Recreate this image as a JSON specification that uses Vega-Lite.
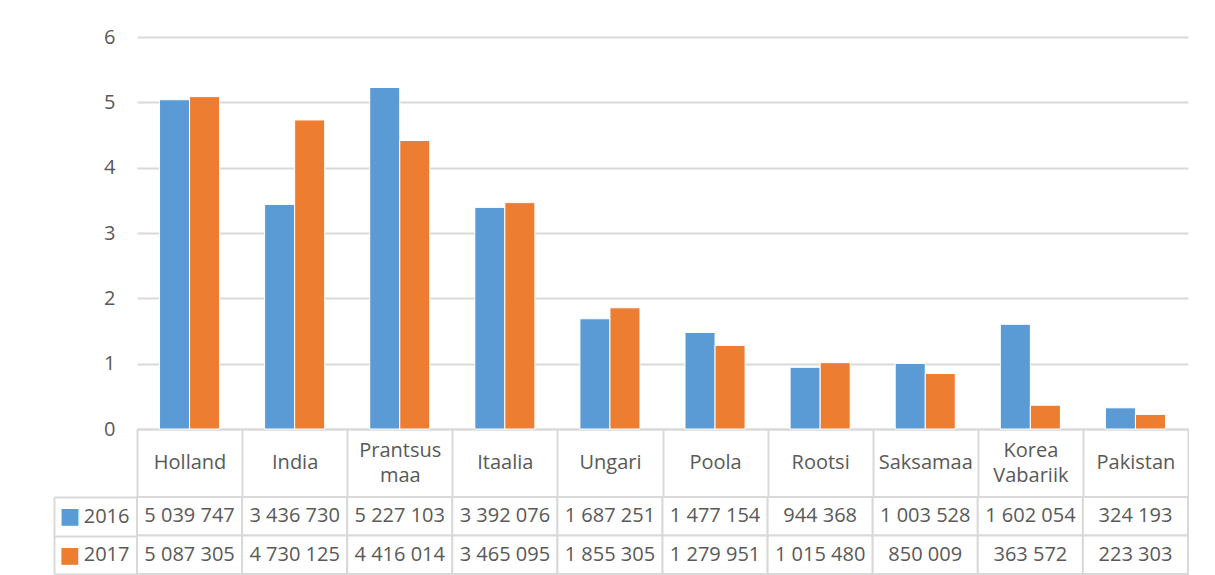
{
  "$schema": "https://vega.github.io/schema/vega-lite/v6.json",
  "background": "white",
  "padding": {"left": 53, "top": 27, "right": 0, "bottom": 0},
  "spacing": -10,
  "config": {
    "view": {"stroke": null},
    "font": "Open Sans",
    "locale": {"number": {"decimal": ",", "thousands": " ", "grouping": [3], "currency": ["", " €"]}}
  },
  "datasets": {
    "exports": [
      {"country": "Holland", "year": "2016", "value": 5039747},
      {"country": "Holland", "year": "2017", "value": 5087305},
      {"country": "India", "year": "2016", "value": 3436730},
      {"country": "India", "year": "2017", "value": 4730125},
      {"country": "Prantsusmaa", "year": "2016", "value": 5227103},
      {"country": "Prantsusmaa", "year": "2017", "value": 4416014},
      {"country": "Itaalia", "year": "2016", "value": 3392076},
      {"country": "Itaalia", "year": "2017", "value": 3465095},
      {"country": "Ungari", "year": "2016", "value": 1687251},
      {"country": "Ungari", "year": "2017", "value": 1855305},
      {"country": "Poola", "year": "2016", "value": 1477154},
      {"country": "Poola", "year": "2017", "value": 1279951},
      {"country": "Rootsi", "year": "2016", "value": 944368},
      {"country": "Rootsi", "year": "2017", "value": 1015480},
      {"country": "Saksamaa", "year": "2016", "value": 1003528},
      {"country": "Saksamaa", "year": "2017", "value": 850009},
      {"country": "Korea Vabariik", "year": "2016", "value": 1602054},
      {"country": "Korea Vabariik", "year": "2017", "value": 363572},
      {"country": "Pakistan", "year": "2016", "value": 324193},
      {"country": "Pakistan", "year": "2017", "value": 223303}
    ]
  },
  "vconcat": [
    {
      "width": 1051,
      "height": 392,
      "data": {"name": "exports"},
      "mark": {"type": "bar", "stroke": "white", "strokeWidth": 1},
      "encoding": {
        "x": {
          "field": "country", "type": "nominal", "sort": null,
          "scale": {"paddingInner": 0, "paddingOuter": 0},
          "axis": {
            "title": null,
            "labelAngle": 0,
            "labelExpr": "datum.label == 'Prantsusmaa' ? ['Prantsus', 'maa'] : split(datum.label, ' ')",
            "labelFontSize": 20,
            "labelColor": "#595959",
            "labelLineHeight": 25,
            "labelBaseline": "middle",
            "labelPadding": {"condition": {"test": "datum.value == 'Prantsusmaa' || datum.value == 'Korea Vabariik'", "value": -46}, "value": -34},
            "labelOverlap": false,
            "labelLimit": 0,
            "domain": true,
            "domainColor": "#d9d9d9",
            "domainWidth": 2,
            "ticks": true,
            "tickBand": "extent",
            "tickSize": 67,
            "tickColor": "#d9d9d9",
            "tickWidth": 2,
            "grid": false
          }
        },
        "xOffset": {"field": "year", "type": "nominal", "scale": {"paddingInner": 0, "paddingOuter": 0.75}},
        "y": {
          "field": "value", "type": "quantitative",
          "scale": {"domain": [0, 6000000], "nice": false},
          "axis": {
            "title": null,
            "values": [0, 1000000, 2000000, 3000000, 4000000, 5000000, 6000000],
            "labelExpr": "format(datum.value / 1000000, 'd')",
            "labelFontSize": 20,
            "labelColor": "#595959",
            "labelPadding": 22,
            "domain": false,
            "ticks": false,
            "grid": true,
            "gridColor": "#d9d9d9",
            "gridWidth": 2
          }
        },
        "color": {
          "field": "year", "type": "nominal",
          "scale": {"domain": ["2016", "2017"], "range": ["#5B9BD5", "#ED7D31"]},
          "legend": null
        }
      }
    },
    {
      "width": 1051,
      "height": 77,
      "data": {"name": "exports"},
      "encoding": {
        "x": {"field": "country", "type": "nominal", "sort": null, "scale": {"paddingInner": 0, "paddingOuter": 0}, "axis": null},
        "y": {"field": "year", "type": "nominal", "scale": {"domain": ["2016", "2017"], "paddingInner": 0, "paddingOuter": 0}}
      },
      "layer": [
        {
          "mark": {"type": "rect", "fill": "white", "stroke": "#d9d9d9", "strokeWidth": 2},
          "encoding": {
            "y": {
              "field": "year", "type": "nominal",
              "axis": {
                "orient": "left",
                "title": null,
                "labelFontSize": 20,
                "labelColor": "#595959",
                "labelPadding": -75,
                "domain": false,
                "ticks": true,
                "tickBand": "extent",
                "tickSize": 83,
                "tickColor": "#d9d9d9",
                "tickWidth": 2
              }
            }
          }
        },
        {
          "mark": {"type": "text", "fontSize": 20, "color": "#595959", "baseline": "middle", "align": "center"},
          "encoding": {
            "y": {
              "field": "year", "type": "nominal",
              "axis": {
                "orient": "left",
                "title": null,
                "offset": 83,
                "labelExpr": "'■'",
                "labelFont": "DejaVu Sans",
                "labelFontSize": 22,
                "labelAlign": "left",
                "labelPadding": -5,
                "labelColor": {"condition": {"test": "datum.value == '2016'", "value": "#5B9BD5"}, "value": "#ED7D31"},
                "domain": true,
                "domainColor": "#d9d9d9",
                "domainWidth": 2,
                "ticks": false
              }
            },
            "text": {"field": "value", "type": "quantitative", "format": ",d"}
          }
        }
      ],
      "resolve": {"axis": {"y": "independent"}}
    }
  ]
}
